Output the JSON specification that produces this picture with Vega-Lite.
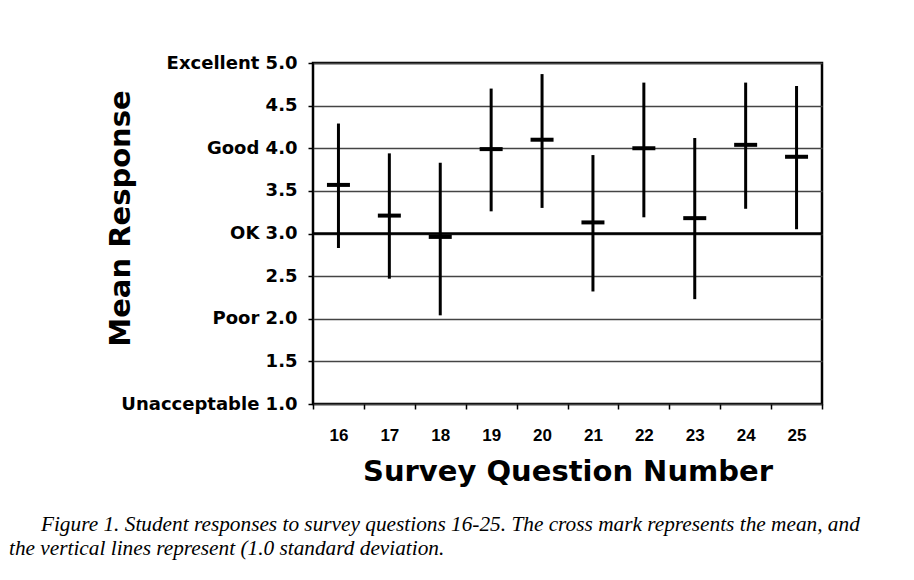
{
  "$schema": "https://vega.github.io/schema/vega-lite/v6.json",
  "width": 509,
  "height": 341,
  "autosize": "none",
  "padding": {"left": 313, "top": 63, "right": 92, "bottom": 176},
  "background": "white",
  "config": {"view": {"stroke": "black", "strokeWidth": 2.5}},
  "title": {
    "text": ["\u200b\u2003\u2002Figure 1. Student responses to survey questions 16-25. The cross mark represents the mean, and", "the vertical lines represent (1.0 standard deviation."],
    "orient": "bottom",
    "anchor": "start",
    "frame": "group",
    "font": "Liberation Serif",
    "fontStyle": "italic",
    "fontWeight": "normal",
    "fontSize": 21.3,
    "lineHeight": 24,
    "color": "black",
    "baseline": "top",
    "dx": -304,
    "offset": 28
  },
  "data": {
    "values": [
      {"q": "16", "mean": 3.57, "low": 2.83, "high": 4.29},
      {"q": "17", "mean": 3.21, "low": 2.47, "high": 3.94},
      {"q": "18", "mean": 2.96, "low": 2.04, "high": 3.83},
      {"q": "19", "mean": 3.99, "low": 3.26, "high": 4.70},
      {"q": "20", "mean": 4.10, "low": 3.30, "high": 4.87},
      {"q": "21", "mean": 3.13, "low": 2.32, "high": 3.92},
      {"q": "22", "mean": 4.00, "low": 3.19, "high": 4.77},
      {"q": "23", "mean": 3.18, "low": 2.23, "high": 4.12},
      {"q": "24", "mean": 4.04, "low": 3.29, "high": 4.77},
      {"q": "25", "mean": 3.90, "low": 3.05, "high": 4.73}
    ]
  },
  "layer": [
    {
      "data": {"values": [{"ok": 3}]},
      "mark": {"type": "rule", "strokeWidth": 2.5, "color": "black"},
      "encoding": {"y": {"field": "ok", "type": "quantitative", "scale": {"domain": [1, 5], "nice": false, "zero": false}}}
    },
    {
      "mark": {"type": "rule", "strokeWidth": 3, "color": "black"},
      "encoding": {
        "x": {
          "field": "q",
          "type": "ordinal",
          "scale": {"type": "band", "paddingInner": 0, "paddingOuter": 0},
          "axis": {
            "title": "Survey Question Number",
            "tickBand": "extent",
            "domain": false,
            "ticks": true,
            "tickSize": 5,
            "tickWidth": 1.5,
            "tickColor": "black",
            "labelAngle": 0,
            "labelFont": "Liberation Sans",
            "labelFontWeight": "bold",
            "labelFontSize": 17,
            "labelColor": "black",
            "labelPadding": 18,
            "titleFont": "DejaVu Sans",
            "titleFontWeight": "bold",
            "titleFontSize": 29,
            "titleColor": "black",
            "titleBaseline": "alphabetic",
            "titleY": 76
          }
        },
        "y": {
          "field": "low",
          "type": "quantitative",
          "scale": {"domain": [1, 5], "nice": false, "zero": false},
          "axis": {
            "title": "Mean Response",
            "values": [1, 1.5, 2, 2.5, 3, 3.5, 4, 4.5, 5],
            "labelExpr": "datum.value == 5 ? 'Excellent 5.0' : datum.value == 4 ? 'Good 4.0' : datum.value == 3 ? 'OK 3.0' : datum.value == 2 ? 'Poor 2.0' : datum.value == 1 ? 'Unacceptable 1.0' : format(datum.value, '.1f')",
            "domain": false,
            "grid": true,
            "gridColor": "#444444",
            "gridWidth": 1.5,
            "tickSize": 5,
            "tickWidth": 1.5,
            "tickColor": "black",
            "labelFont": "DejaVu Sans",
            "labelFontWeight": "bold",
            "labelFontSize": 18,
            "labelColor": "black",
            "labelPadding": 11,
            "titleFont": "DejaVu Sans",
            "titleFontWeight": "bold",
            "titleFontSize": 29,
            "titleColor": "black",
            "titleAngle": 270,
            "titleAlign": "center",
            "titleBaseline": "middle",
            "titleX": -193,
            "titleY": 155
          }
        },
        "y2": {"field": "high"}
      }
    },
    {
      "mark": {"type": "tick", "thickness": 4, "size": 23, "color": "black", "opacity": 1},
      "encoding": {
        "x": {"field": "q", "type": "ordinal"},
        "y": {"field": "mean", "type": "quantitative", "scale": {"domain": [1, 5], "nice": false, "zero": false}}
      }
    }
  ]
}
